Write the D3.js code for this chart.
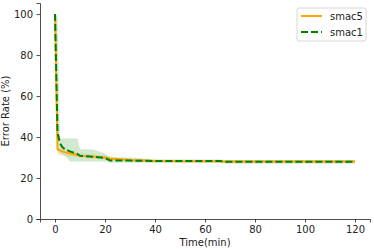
<!DOCTYPE html>
<html lang="en">
<head>
  <meta charset="UTF-8">
  <title>Error Rate vs Time</title>
  <script src="https://cdnjs.cloudflare.com/ajax/libs/d3/7.8.5/d3.min.js"></script>
  <style>
    body { margin:0; background:#fff; }
    text { font-family:"DejaVu Sans", sans-serif; fill:#222; }
  </style>
</head>
<body>
  <svg id="chart" width="374" height="249"></svg>
  <script>
    // time points (min)
    var times = [0, 1, 2, 3, 4, 6, 9, 10, 15, 20, 22, 30, 40, 60, 66, 68, 80, 100, 120];

    // smac5 mean + band
    var smac5 = [100, 34, 33.5, 33, 32.5, 32, 31.2, 30.8, 30.5, 30, 29.5, 28.8, 28.3, 28.2, 28.2, 28, 28, 28, 28];
    var smac5Lo = [100, 31, 31, 30.8, 30.5, 30.5, 30.2, 30, 29.5, 29, 28.5, 28, 27.5, 27.3, 27.3, 27.3, 27.3, 27.3, 27.3];
    var smac5Hi = [100, 35, 34.5, 34.2, 34, 33, 32.5, 32, 31.5, 31, 30.5, 29.5, 29, 28.8, 28.8, 28.8, 28.8, 28.8, 28.8];

    // smac1 mean + band
    var smac1 = [100, 42, 37, 35, 34, 33, 31.7, 30.8, 30.4, 29.8, 28.6, 28.5, 28.3, 28.3, 28.3, 27.9, 27.9, 27.9, 27.9];
    var smac1Lo = [100, 33, 32, 31.5, 31, 28, 28, 28, 28, 28, 27.5, 27.5, 27.5, 27.5, 27.5, 27, 27, 27, 27];
    var smac1Hi = [100, 99, 39.3, 39.3, 39.3, 39.3, 39.3, 34, 34, 32, 30, 30, 29, 29, 29, 28.8, 28.8, 28.8, 28.8];

    var xTicks = [0, 20, 40, 60, 80, 100, 120];
    var yTicks = [0, 20, 40, 60, 80, 100];
    var seriesNames = ["smac5", "smac1"];

    var svg = d3.select("#chart");
    var x = d3.scaleLinear().domain([-6, 126]).range([40, 370]);
    var y = d3.scaleLinear().domain([0, 105.4]).range([219, 3]);

    function rows(mean, lo, hi) {
      return times.map(function(t, i) { return { t:t, v:mean[i], lo:lo[i], hi:hi[i] }; });
    }
    var series = [
      { name:"smac5", color:"orange", data:rows(smac5, smac5Lo, smac5Hi), dash:null },
      { name:"smac1", color:"green", data:rows(smac1, smac1Lo, smac1Hi), dash:"7,3" }
    ];

    var area = d3.area().x(d => x(d.t)).y0(d => y(d.lo)).y1(d => y(d.hi));
    var line = d3.line().x(d => x(d.t)).y(d => y(d.v));

    series.forEach(function(s) {
      svg.append("path").attr("d", area(s.data))
        .attr("fill", s.color).attr("fill-opacity", 0.18).attr("stroke", "none");
    });
    series.forEach(function(s) {
      svg.append("path").attr("d", line(s.data))
        .attr("fill", "none").attr("stroke", s.color).attr("stroke-width", 2)
        .attr("stroke-dasharray", s.dash);
    });

    // axes
    var xAxis = svg.append("g").attr("transform", "translate(0,219)")
      .call(d3.axisBottom(x).tickValues(xTicks).tickSize(3.5).tickPadding(3.5));
    var yAxis = svg.append("g").attr("transform", "translate(40,0)")
      .call(d3.axisLeft(y).tickValues(yTicks).tickSize(3.5).tickPadding(3.5));
    [xAxis, yAxis].forEach(function(g) {
      g.selectAll("text").attr("font-size", 10).attr("font-family", "DejaVu Sans").attr("fill", "#222");
      g.selectAll("line").attr("stroke", "#222").attr("stroke-width", 0.8);
      g.select(".domain").attr("stroke", "#222").attr("stroke-width", 0.8);
    });

    svg.append("text").attr("x", 205).attr("y", 246).attr("text-anchor", "middle")
      .attr("font-size", 10).text("Time(min)");
    svg.append("text").attr("transform", "translate(9,111) rotate(-90)")
      .attr("text-anchor", "middle").attr("font-size", 10).text("Error Rate (%)");

    // legend
    var lg = svg.append("g").attr("transform", "translate(297,8)");
    lg.append("rect").attr("width", 69).attr("height", 33).attr("rx", 2)
      .attr("fill", "#fff").attr("fill-opacity", 0.8).attr("stroke", "#ccc").attr("stroke-width", 0.8);
    series.forEach(function(s, i) {
      var yy = 8 + i * 16;
      lg.append("line").attr("x1", 4).attr("x2", 25).attr("y1", yy).attr("y2", yy)
        .attr("stroke", s.color).attr("stroke-width", 2).attr("stroke-dasharray", s.dash);
      lg.append("text").attr("x", 33).attr("y", yy + 3.5).attr("font-size", 10).text(seriesNames[i]);
    });
  </script>
</body>
</html>
